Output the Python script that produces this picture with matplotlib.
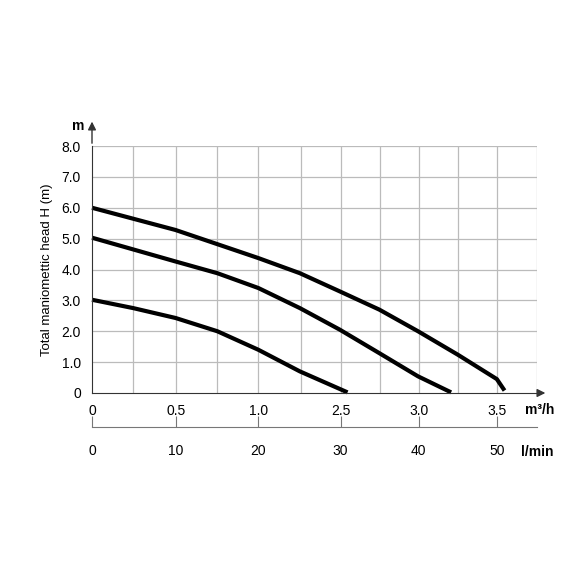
import matplotlib
matplotlib.use("Agg")
import matplotlib.pyplot as plt

plt.rcParams['font.family'] = ['Liberation Sans', 'DejaVu Sans']

grid_x = [0, 0.245, 0.503, 0.749, 0.994, 1.246, 1.485, 1.719, 1.952, 2.186, 2.419, 2.659]
tick_pos = [0, 0.503, 0.994, 1.485, 1.952, 2.419]
tick_m3h = ["0", "0.5", "1.0", "2.5", "3.0", "3.5"]
tick_lmin = ["0", "10", "20", "30", "40", "50"]
y_ticks = [0, 1, 2, 3, 4, 5, 6, 7, 8]
y_labels = ["0", "1.0", "2.0", "3.0", "4.0", "5.0", "6.0", "7.0", "8.0"]

top_x = [0, 0.499, 0.994, 1.242, 1.481, 1.717, 1.948, 2.186, 2.419, 2.465]
top_y = [6.0, 5.28, 4.37, 3.88, 3.29, 2.70, 2.0, 1.24, 0.45, 0.08]
mid_x = [0, 0.499, 0.749, 0.994, 1.242, 1.481, 1.717, 1.948, 2.146]
mid_y = [5.03, 4.26, 3.88, 3.40, 2.75, 2.05, 1.29, 0.54, 0.02]
low_x = [0, 0.246, 0.499, 0.749, 0.994, 1.242, 1.527]
low_y = [3.02, 2.75, 2.43, 2.0, 1.40, 0.70, 0.02]

W = H = 570
fig = plt.figure(figsize=(5.7, 5.7), dpi=100)
L, R, T, B = 92, 537, 146, 393
ax = fig.add_axes([L / W, 1 - B / H, (R - L) / W, (B - T) / H])
ax.set_xlim(0, grid_x[-1])
ax.set_ylim(0, 8)
for gx in grid_x[1:]:
    ax.axvline(gx, color='#bbbbbb', lw=0.9, zorder=0)
for gy in y_ticks[1:]:
    ax.axhline(gy, color='#bbbbbb', lw=0.9, zorder=0)
for s in ['top', 'right']:
    ax.spines[s].set_visible(False)
ax.spines['left'].set_color('#333333')
ax.spines['bottom'].set_color('#333333')
ax.set_xticks(tick_pos)
ax.set_xticklabels(tick_m3h, fontsize=10)
ax.set_yticks(y_ticks)
ax.set_yticklabels(y_labels, fontsize=10)
ax.tick_params(length=0, pad=8)
for xs, ys in [(top_x, top_y), (mid_x, mid_y), (low_x, low_y)]:
    ax.plot(xs, ys, color='black', lw=3, solid_capstyle='butt', clip_on=False)
ax.set_ylabel("Total maniometic head H (m)".replace("maniometic", "maniomettic"), fontsize=9.5, labelpad=6)

# arrows
ax.annotate('', xy=(1.025, 0), xytext=(1.0, 0), xycoords='axes fraction',
            arrowprops=dict(arrowstyle='-|>', color='#333333', lw=1, mutation_scale=12))
ax.annotate('', xy=(0, 1.11), xytext=(0, 1.0), xycoords='axes fraction',
            arrowprops=dict(arrowstyle='-|>', color='#333333', lw=1, mutation_scale=12))
fig.text(78 / W, 1 - 126 / H, "m", fontsize=10, fontweight='bold', ha='center', va='center')
fig.text(540 / W, 1 - 410 / H, "m³/h", fontsize=10, fontweight='bold', ha='center', va='center')
fig.text(537 / W, 1 - 452 / H, "l/min", fontsize=10, fontweight='bold', ha='center', va='center')

# second axis
ax2 = fig.add_axes([L / W, 1 - 427 / H, (537 - L) / W, 0.001])
ax2.set_xlim(0, grid_x[-1] * (537 - L) / (R - L))
ax2.set_xlim(0, grid_x[-1])
ax2.set_yticks([])
for s in ['top', 'right', 'left']:
    ax2.spines[s].set_visible(False)
ax2.spines['bottom'].set_color('#777777')
ax2.set_xticks(tick_pos)
ax2.set_xticklabels(tick_lmin, fontsize=10)
ax2.tick_params(axis='x', direction='in', length=8, color='#777777', pad=12)
ax2.patch.set_visible(False)

fig.savefig("out.png", dpi=100, facecolor='white')
